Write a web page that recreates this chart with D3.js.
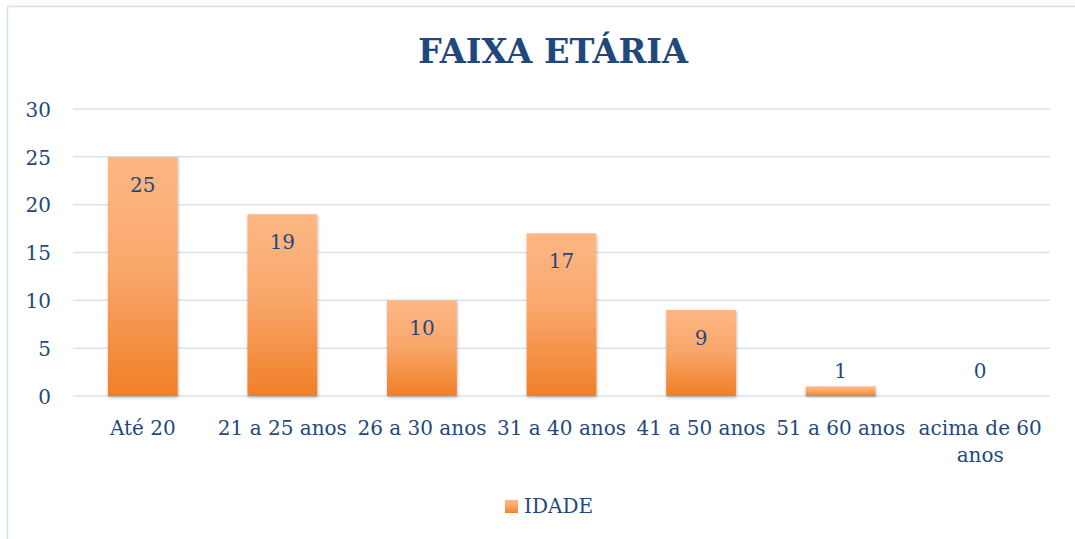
<!DOCTYPE html>
<html>
<head>
<meta charset="utf-8">
<script src="https://cdn.jsdelivr.net/npm/d3@7"></script>
<style>
  body { margin: 0; background: #fff; }
  svg { display: block; }
</style>
</head>
<body>
<svg id="chart"></svg>
<script>
// data
const categories = ['Até 20', '21 a 25 anos', '26 a 30 anos', '31 a 40 anos', '41 a 50 anos', '51 a 60 anos', 'acima de 60 anos'];
const values = [25, 19, 10, 17, 9, 1, 0];
const yTicks = [0, 5, 10, 15, 20, 25, 30];
const seriesName = 'IDADE';
const chartTitle = 'FAIXA ETÁRIA';

const width = 1075, height = 539;
const margin = { top: 109, right: 25, bottom: 143, left: 73 };
const textColor = '#1F497D';
const gridColor = '#D9E3F0';
const font = "'DejaVu Serif', serif";
const fontSize = '20px';

const svg = d3.select('#chart')
  .attr('width', width)
  .attr('height', height);

// outer chart border (runs off the right / bottom edge)
svg.append('rect')
  .attr('x', 7.5).attr('y', 6.5)
  .attr('width', width + 10).attr('height', height + 10)
  .attr('fill', '#fff')
  .attr('stroke', '#D5E1EF')
  .attr('stroke-width', 1.5);

const defs = svg.append('defs');
const grad = defs.append('linearGradient')
  .attr('id', 'barGrad')
  .attr('x1', 0).attr('y1', 0).attr('x2', 0).attr('y2', 1);
grad.append('stop').attr('offset', '0%').attr('stop-color', '#FDB784');
grad.append('stop').attr('offset', '45%').attr('stop-color', '#F9A86C');
grad.append('stop').attr('offset', '100%').attr('stop-color', '#F07F27');

const shadow = defs.append('filter')
  .attr('id', 'barShadow')
  .attr('x', '-20%').attr('y', '-20%').attr('width', '140%').attr('height', '140%');
shadow.append('feDropShadow')
  .attr('dx', 0.5).attr('dy', 1.5)
  .attr('stdDeviation', 1.6)
  .attr('flood-color', '#000')
  .attr('flood-opacity', 0.3);

const x = d3.scaleBand()
  .domain(categories)
  .range([margin.left, width - margin.right])
  .paddingInner(0.5)
  .paddingOuter(0.25);

const y = d3.scaleLinear()
  .domain([0, 30])
  .range([height - margin.bottom, margin.top]);

// gridlines
svg.append('g')
  .selectAll('line')
  .data(yTicks)
  .join('line')
  .attr('x1', margin.left)
  .attr('x2', width - margin.right)
  .attr('y1', d => y(d))
  .attr('y2', d => y(d))
  .attr('stroke', gridColor)
  .attr('stroke-width', 1.5);

// y axis labels
const yAxis = svg.append('g')
  .attr('transform', `translate(${margin.left - 22},0)`)
  .call(d3.axisLeft(y).tickValues(yTicks).tickSize(0).tickPadding(0));
yAxis.select('.domain').remove();
yAxis.selectAll('text')
  .attr('fill', textColor)
  .style('font-family', font)
  .style('font-size', fontSize)
  .attr('dy', '0.36em');

// x axis labels
const xAxis = svg.append('g')
  .attr('transform', `translate(0,${y(0)})`)
  .call(d3.axisBottom(x).tickSize(0).tickPadding(0));
xAxis.select('.domain').remove();
xAxis.selectAll('text')
  .attr('fill', textColor)
  .style('font-family', font)
  .style('font-size', fontSize)
  .attr('y', 39)
  .attr('dy', 0)
  .call(wrap, x.step() - 4);

// bars
svg.append('g')
  .selectAll('rect')
  .data(values)
  .join('rect')
  .attr('x', (d, i) => x(categories[i]))
  .attr('y', d => y(d))
  .attr('width', x.bandwidth())
  .attr('height', d => y(0) - y(d))
  .attr('fill', 'url(#barGrad)')
  .attr('filter', 'url(#barShadow)');

// value labels: inside the top of the bar, above it when the bar is too short
svg.append('g')
  .selectAll('text')
  .data(values)
  .join('text')
  .attr('x', (d, i) => x(categories[i]) + x.bandwidth() / 2)
  .attr('y', d => (y(0) - y(d) >= 45) ? y(d) + 35 : y(0) - 18)
  .attr('text-anchor', 'middle')
  .attr('fill', textColor)
  .style('font-family', font)
  .style('font-size', fontSize)
  .text(d => d);

// title
svg.append('text')
  .attr('x', 553)
  .attr('y', 63)
  .attr('text-anchor', 'middle')
  .attr('fill', textColor)
  .style('font-family', "'DejaVu Serif', serif")
  .style('font-weight', 'bold')
  .style('font-size', '33.5px')
  .text(chartTitle);

// legend
const legend = svg.append('g').attr('transform', 'translate(505,500)');
legend.append('rect')
  .attr('width', 13).attr('height', 13)
  .attr('fill', 'url(#barGrad)');
legend.append('text')
  .attr('x', 19).attr('y', 13)
  .attr('fill', textColor)
  .style('font-family', font)
  .style('font-size', fontSize)
  .text(seriesName);

function wrap(texts, maxWidth) {
  texts.each(function () {
    const text = d3.select(this);
    const words = text.text().split(/\s+/);
    const yPos = text.attr('y');
    text.text(null);
    let line = [];
    let lineNo = 0;
    let tspan = text.append('tspan').attr('x', 0).attr('y', yPos);
    for (const w of words) {
      line.push(w);
      tspan.text(line.join(' '));
      if (tspan.node().getComputedTextLength() > maxWidth && line.length > 1) {
        line.pop();
        tspan.text(line.join(' '));
        line = [w];
        lineNo++;
        tspan = text.append('tspan')
          .attr('x', 0)
          .attr('y', +yPos + lineNo * 27)
          .text(w);
      }
    }
  });
}
</script>
</body>
</html>
